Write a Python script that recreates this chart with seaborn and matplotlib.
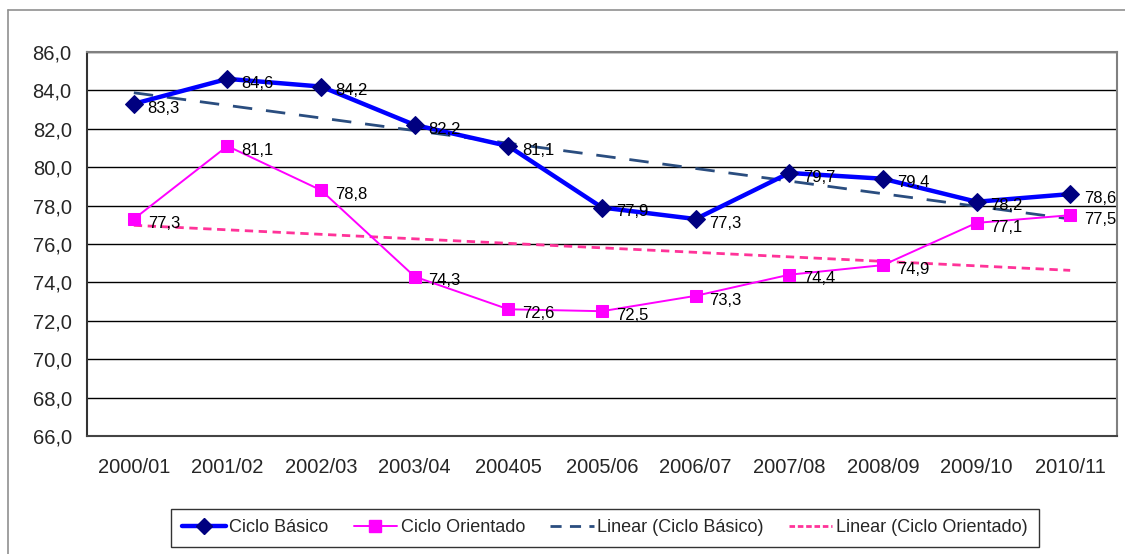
import numpy as np
import pandas as pd
import seaborn as sns
import matplotlib.pyplot as plt
from matplotlib.lines import Line2D

# Data
periodos = ["2000/01", "2001/02", "2002/03", "2003/04", "200405", "2005/06",
            "2006/07", "2007/08", "2008/09", "2009/10", "2010/11"]
ciclo_basico = [83.3, 84.6, 84.2, 82.2, 81.1, 77.9, 77.3, 79.7, 79.4, 78.2, 78.6]
ciclo_orientado = [77.3, 81.1, 78.8, 74.3, 72.6, 72.5, 73.3, 74.4, 74.9, 77.1, 77.5]

sns.set_style("white")
plt.rcParams['font.family'] = ['Liberation Sans', 'DejaVu Sans']

df = pd.DataFrame({"x": np.arange(len(periodos)),
                   "basico": ciclo_basico,
                   "orientado": ciclo_orientado})

# linear trend lines (what Excel calls "Linear")
pb = np.polyfit(df["x"], df["basico"], 1)
po = np.polyfit(df["x"], df["orientado"], 1)
df["trend_b"] = np.polyval(pb, df["x"])
df["trend_o"] = np.polyval(po, df["x"])

fig = plt.figure(figsize=(11.25, 5.54), dpi=100)
ax = fig.add_axes([87 / 1125, 1 - 436 / 554, (1117 - 87) / 1125, (436 - 52) / 554])

sns.lineplot(data=df, x="x", y="trend_b", ax=ax, color="#2A4D7F", lw=2, zorder=2)
ax.lines[-1].set_dashes([7, 5])
sns.lineplot(data=df, x="x", y="trend_o", ax=ax, color="#FF3399", lw=2, zorder=2)
ax.lines[-1].set_dashes([3, 2])
sns.lineplot(data=df, x="x", y="basico", ax=ax, color="#0000FF", lw=3.2,
             marker="D", markersize=9, markerfacecolor="#000080",
             markeredgecolor="#000080", zorder=4)
sns.lineplot(data=df, x="x", y="orientado", ax=ax, color="#FF00FF", lw=1.4,
             marker="s", markersize=9, markerfacecolor="#FF00FF",
             markeredgecolor="#FF00FF", zorder=3)

for i in range(len(periodos)):
    ax.annotate(f"{ciclo_basico[i]:.1f}".replace(".", ","), (i, ciclo_basico[i]),
                xytext=(10, -3), textcoords="offset points", ha="left", va="center",
                fontsize=12, color="black", zorder=5)
    ax.annotate(f"{ciclo_orientado[i]:.1f}".replace(".", ","), (i, ciclo_orientado[i]),
                xytext=(10, -3), textcoords="offset points", ha="left", va="center",
                fontsize=12, color="black", zorder=5)

ax.set_xlim(-0.5, len(periodos) - 0.5)
ax.set_ylim(66, 86)
ax.set_yticks(np.arange(66, 86.1, 2))
ax.set_yticklabels([f"{v:.1f}".replace(".", ",") for v in np.arange(66, 86.1, 2)],
                   fontsize=14.5)
ax.set_xticks(np.arange(len(periodos)))
ax.set_xticklabels(periodos, fontsize=14.5)
ax.set_xticks(np.arange(-0.5, len(periodos)), minor=True)
ax.tick_params(axis="x", which="major", length=0, pad=16)
ax.tick_params(axis="x", which="minor", length=7, width=1.2, color="#333333")
ax.tick_params(axis="y", which="major", length=6, width=1.2, color="#333333", pad=5)
ax.set_xlabel("")
ax.set_ylabel("")
ax.yaxis.grid(True, color="black", lw=1)
ax.set_axisbelow(True)
for s in ax.spines.values():
    s.set_color("#808080")
    s.set_linewidth(1.5)
ax.spines["left"].set_color("#333333")
ax.spines["bottom"].set_color("#444444")

handles = [
    Line2D([], [], color="#0000FF", lw=3.2, marker="D", markersize=8,
           markerfacecolor="#000080", markeredgecolor="#000080"),
    Line2D([], [], color="#FF00FF", lw=1.4, marker="s", markersize=8),
    Line2D([], [], color="#2A4D7F", lw=2, dashes=[4, 3]),
    Line2D([], [], color="#FF3399", lw=2, dashes=[2, 1]),
]
labels = ["Ciclo Básico", "Ciclo Orientado", "Linear (Ciclo Básico)",
          "Linear (Ciclo Orientado)"]
leg = fig.legend(handles, labels, loc="center", bbox_to_anchor=(605 / 1125, 1 - 528 / 554),
                 ncol=4, fontsize=13, frameon=True, fancybox=False,
                 handlelength=2.4, handletextpad=0.2, columnspacing=1.4,
                 borderpad=0.6)
leg.get_frame().set_edgecolor("black")
leg.get_frame().set_linewidth(1)

# outer chart border
fig.add_artist(Line2D([8 / 1125, 8 / 1125], [0, 1 - 10 / 554], color="#909090", lw=1.2))
fig.add_artist(Line2D([8 / 1125, 1], [1 - 10 / 554, 1 - 10 / 554], color="#909090", lw=1.2))

fig.savefig("out.png", dpi=100)
